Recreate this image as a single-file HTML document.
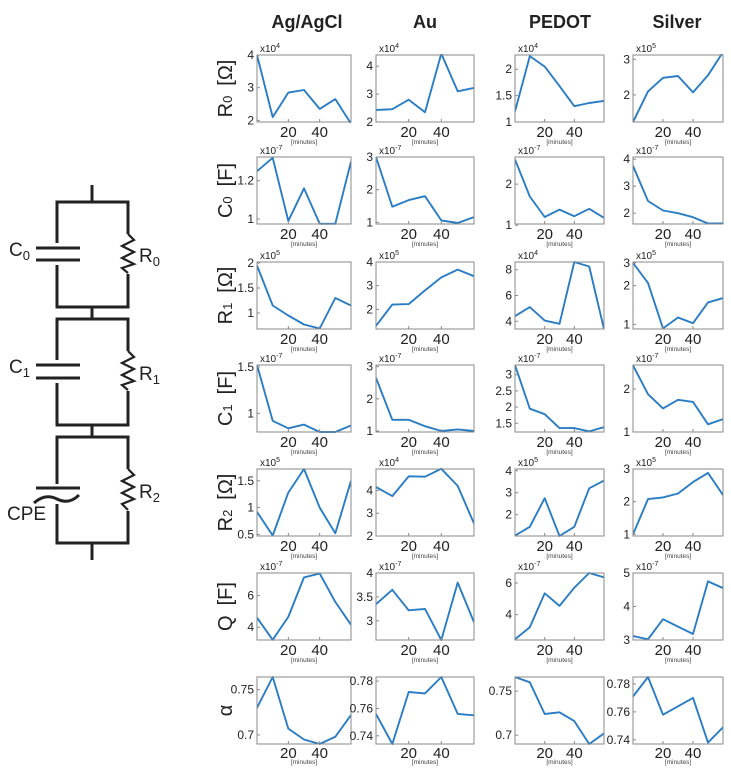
<!DOCTYPE html>
<html><head><meta charset="utf-8"><style>
body{margin:0;background:#fff;}
svg{display:block;font-family:"Liberation Sans",sans-serif;}
</style></head><body>
<svg id="fig" width="731" height="768" viewBox="0 0 731 768">
<g id="circuit" stroke="#222" stroke-width="3" fill="none">
<line x1="92" y1="185" x2="92" y2="202"/>
<rect x="57" y="202" width="71" height="105"/>
<line x1="92" y1="307" x2="92" y2="319"/>
<rect x="57" y="319" width="71" height="106"/>
<line x1="92" y1="425" x2="92" y2="437"/>
<rect x="57" y="437" width="71" height="106"/>
<line x1="92" y1="543" x2="92" y2="560"/>
<rect x="50" y="243" width="16" height="22" fill="#fff" stroke="none"/>
<line x1="36" y1="248" x2="80" y2="248"/><line x1="36" y1="260" x2="80" y2="260"/>
<rect x="50" y="360" width="16" height="23" fill="#fff" stroke="none"/>
<line x1="36" y1="365" x2="80" y2="365"/><line x1="36" y1="378" x2="80" y2="378"/>
<rect x="50" y="484" width="16" height="20" fill="#fff" stroke="none"/>
<line x1="36" y1="488" x2="80" y2="488"/>
<path d="M34 503 Q45 493 57 499 Q69 505 79 495"/>
<rect x="122" y="234" width="16" height="40" fill="#fff" stroke="none"/>
<path d="M128 234 L134 240 L122 246 L134 252 L122 258 L134 264 L122 268 L128 273" stroke-width="2.2"/>
<rect x="122" y="351" width="16" height="40" fill="#fff" stroke="none"/>
<path d="M128 351 L134 357 L122 363 L134 369 L122 375 L134 381 L122 385 L128 390" stroke-width="2.2"/>
<rect x="122" y="469" width="16" height="42" fill="#fff" stroke="none"/>
<path d="M128 469 L134 475 L122 481 L134 487 L122 493 L134 499 L122 504 L128 510" stroke-width="2.2"/>
</g>
<g font-size="19" fill="#222">
<text x="9" y="256">C<tspan font-size="13" dy="4">0</tspan></text>
<text x="139" y="262">R<tspan font-size="13" dy="4">0</tspan></text>
<text x="9" y="373">C<tspan font-size="13" dy="4">1</tspan></text>
<text x="139" y="380">R<tspan font-size="13" dy="4">1</tspan></text>
<text x="139" y="498">R<tspan font-size="13" dy="4">2</tspan></text>
<text x="7" y="520">CPE</text>
</g>
<g id="charts"></g>
</svg>
<script>
const xMinutes = [0,10,20,30,40,50,60];
const columnNames = ["Ag/AgCl","Au","PEDOT","Silver"];
const rowLabels = ["R0","C0","R1","C1","R2","Q","α"];
const rowExponents = [["4","4","4","5"],["-7","-7","-7","-7"],["5","5","4","5"],["-7","-7","-7","-7"],["5","4","5","5"],["-7","-7","-7","-7"],["","","",""]];
const r0Values = [[4.0,2.1,2.85,2.93,2.35,2.65,1.9],[2.43,2.46,2.8,2.35,4.45,3.1,3.22],[1.2,2.25,2.05,1.68,1.3,1.36,1.4],[1.24,2.1,2.48,2.53,2.07,2.55,3.2]];
const c0Values = [[1.25,1.32,0.99,1.16,0.975,0.975,1.3],[3.0,1.48,1.68,1.8,1.06,0.98,1.16],[2.6,1.7,1.2,1.38,1.22,1.4,1.18],[3.75,2.45,2.1,2.0,1.85,1.62,1.62]];
const r1Values = [[1.95,1.15,0.95,0.77,0.69,1.3,1.15],[1.3,2.2,2.22,2.8,3.35,3.68,3.4],[4.4,5.1,4.05,3.8,8.6,8.25,3.4],[3.0,2.1,0.93,1.13,1.02,1.48,1.6]];
const c1Values = [[1.52,0.92,0.84,0.88,0.8,0.8,0.87],[2.65,1.35,1.35,1.15,1.0,1.05,1.0],[3.3,1.95,1.78,1.35,1.35,1.25,1.38],[2.55,1.88,1.55,1.75,1.7,1.18,1.3]];
const r2Values = [[0.92,0.48,1.28,1.72,1.0,0.52,1.5],[4.15,3.75,4.62,4.6,4.95,4.2,2.55],[1.05,1.45,2.75,1.03,1.45,3.2,3.55],[1.0,2.08,2.13,2.25,2.6,2.88,2.2]];
const qValues = [[4.6,3.2,4.65,7.15,7.4,5.6,4.15],[3.35,3.65,3.22,3.25,2.6,3.8,2.97],[2.45,3.2,5.35,4.55,5.7,6.63,6.35],[3.12,3.02,3.62,3.4,3.18,4.75,4.55]];
const alphaValues = [[0.73,0.764,0.707,0.695,0.69,0.698,0.722],[0.756,0.734,0.772,0.771,0.783,0.756,0.755],[0.766,0.76,0.724,0.726,0.716,0.69,0.702],[0.771,0.785,0.758,0.764,0.77,0.738,0.749]];
const r0Domains = [[1.95,4.0],[2,4.4],[1,2.27],[1.24,3.12]];
const c0Domains = [[0.974,1.324],[0.95,3.0],[1.03,2.66],[1.6,4.08]];
const r1Domains = [[0.68,2.02],[1.17,4.0],[3.4,8.6],[0.92,3.05]];
const c1Domains = [[0.8,1.52],[0.97,3.05],[1.23,3.3],[1.0,2.56]];
const r2Domains = [[0.47,1.72],[2,4.94],[1.03,4.08],[0.95,3.0]];
const qDomains = [[3.19,7.43],[2.6,4.0],[2.4,6.63],[3,5]];
const alphaDomains = [[0.69,0.764],[0.734,0.783],[0.69,0.766],[0.737,0.785]];
const r0Ticks = [[2,3,4],[2,3,4],[1,1.5,2],[2,3]];
const c0Ticks = [[1,1.2],[1,2,3],[1,2],[2,3,4]];
const r1Ticks = [[1,1.5,2],[2,3,4],[4,6,8],[1,2,3]];
const c1Ticks = [[1,1.5],[1,2,3],[1.5,2,2.5,3],[1,2]];
const r2Ticks = [[0.5,1,1.5],[2,3,4],[2,3,4],[1,2,3]];
const qTicks = [[4,6],[3,3.5,4],[4,6],[3,4,5]];
const alphaTicks = [[0.7,0.75],[0.74,0.76,0.78],[0.7,0.75],[0.74,0.76,0.78]];
const xTicks = [20,40];

const allValues=[r0Values,c0Values,r1Values,c1Values,r2Values,qValues,alphaValues];
const allDomains=[r0Domains,c0Domains,r1Domains,c1Domains,r2Domains,qDomains,alphaDomains];
const allTicks=[r0Ticks,c0Ticks,r1Ticks,c1Ticks,r2Ticks,qTicks,alphaTicks];
const NS="http://www.w3.org/2000/svg";
const root=document.getElementById('charts');
const colX=[[257,351],[376,474],[515,604],[633,723]];
const rowTop=[55,157,262,365,469,573,677];
const H=67;
function mk(tag,attrs,parent){const e=document.createElementNS(NS,tag);for(const k in attrs)e.setAttribute(k,attrs[k]);(parent||root).appendChild(e);return e;}
const headerX=[307,425,560,677];
columnNames.forEach((n,i)=>{
  const t=mk('text',{x:headerX[i],y:28,'text-anchor':'middle','font-size':'18','font-weight':'bold',fill:'#222'});
  
  
  t.textContent=n;
});
const rowLabelHtml=[["R","0","[Ω]"],["C","0","[F]"],["R","1","[Ω]"],["C","1","[F]"],["R","2","[Ω]"],["Q","","[F]"],["α","",""]];
rowLabels.forEach((lab,r)=>{
  const cy=rowTop[r]+H/2;
  const t=mk('text',{x:0,y:0,transform:`translate(232,${cy}) rotate(-90)`,'text-anchor':'middle','font-size':'20',fill:'#222'});
  
  
  const p=rowLabelHtml[r];
  const a=document.createElementNS(NS,'tspan');a.textContent=p[0];t.appendChild(a);
  if(p[1]){const b=document.createElementNS(NS,'tspan');b.setAttribute('font-size','13');b.textContent=p[1];t.appendChild(b);}
  if(p[2]){const c=document.createElementNS(NS,'tspan');c.setAttribute('dx','10');c.textContent=p[2];t.appendChild(c);}
});
for(let r=0;r<7;r++){
  for(let c=0;c<4;c++){
    const [x0,x1]=colX[c];const y0=rowTop[r],y1=y0+H;
    const dom=allDomains[r][c];
    const isLog=(r===2&&c===3);
    const f=v=>isLog?Math.log10(v):v;
    const sx=v=>x0+(v-0)/(60-0)*(x1-x0);
    const sy=v=>y1-(f(v)-f(dom[0]))/(f(dom[1])-f(dom[0]))*(y1-y0);
    const g=mk('g',{});
    
    
    const cp='clip'+r+'_'+c;
    const cl=mk('clipPath',{id:cp},g);mk('rect',{x:x0,y:y0-1,width:x1-x0,height:H+2},cl);
    const pts=xMinutes.map((x,i)=>sx(x).toFixed(1)+','+sy(allValues[r][c][i]).toFixed(1)).join(' ');
    const line=mk('polyline',{points:pts,fill:'none',stroke:'#2a7dc4','stroke-width':'1.9','clip-path':`url(#${cp})`,'stroke-linejoin':'round'},g);
    
    
    const box=mk('rect',{x:x0,y:y0,width:x1-x0,height:H,fill:'none',stroke:'#8a8a8a','stroke-width':'1'},g);
    
    
    allTicks[r][c].forEach(tv=>{
      const y=sy(tv);
      const t=mk('text',{x:x0-3,y:y+4,'text-anchor':'end','font-size':'12',fill:'#222'},g);
      
      
      t.textContent=String(tv);
      mk('line',{x1:x0,x2:x0+3,y1:y,y2:y,stroke:'#888'},g);
    });
    xTicks.forEach(xv=>{
      const x=sx(xv);
      const t=mk('text',{x:x,y:y1+(r===6?14:15),'text-anchor':'middle','font-size':'15',fill:'#222'},g);
      
      
      t.textContent=xv;
      mk('line',{x1:x,x2:x,y1:y1,y2:y1-3,stroke:'#888'},g);
    });
    const m=mk('text',{x:(x0+x1)/2,y:y1+(r===6?20:22),'text-anchor':'middle','font-size':'6.5',fill:'#444'},g);
    
    
    m.textContent='[minutes]';
    const ex=rowExponents[r][c];
    if(ex){
      const e=mk('text',{x:x0+3,y:y0-3,'font-size':'10',fill:'#222'},g);
      
      
      const a=document.createElementNS(NS,'tspan');a.textContent='x10';e.appendChild(a);
      const b=document.createElementNS(NS,'tspan');b.setAttribute('font-size','7');b.setAttribute('dy','-4');b.textContent=ex;e.appendChild(b);
    }
  }
}
</script>
</body></html>
